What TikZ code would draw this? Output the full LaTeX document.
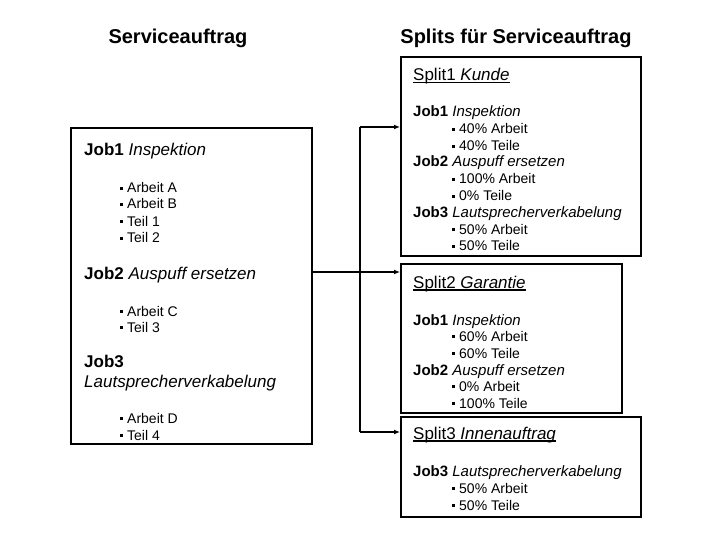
\documentclass[tikz,border=0pt]{standalone}
\usepackage{fontspec}
\setmainfont{Liberation Sans}
\usetikzlibrary{arrows.meta}
\newcommand\sqbul{\rule[3pt]{3pt}{3pt}}
\newcommand\myul[1]{\setbox0\hbox{#1}\rlap{\rule[-2.5pt]{\wd0}{1.2pt}}\box0}
\newcommand\jb[2]{{\bfseries #1} \textit{#2}}
\begin{document}
\begin{tikzpicture}[x=1pt,y=-1pt,
 box/.style={draw, line width=2pt, inner sep=0pt, anchor=north west},
 t/.style={anchor=base west, inner sep=0pt},
 title/.style={anchor=base, inner sep=0pt, font=\fontsize{20}{24}\selectfont\bfseries},
 lhead/.style={t, font=\fontsize{17}{20}\selectfont},
 lbul/.style={t, font=\fontsize{14}{17}\selectfont},
 rsplit/.style={t, font=\fontsize{17}{20}\selectfont},
 rhead/.style={t, font=\fontsize{15}{17}\selectfont},
 rbul/.style={t, font=\fontsize{14}{17}\selectfont},
 conn/.style={line width=1.6pt},
 arr/.style={conn, -{Latex[length=6pt,width=5pt]}}]
\useasboundingbox (0,0) rectangle (720,540);

% titles
\node[title] (t1) at (178,44) {Serviceauftrag};
\node[title] (t2) at (516,44) {Splits für Serviceauftrag};

% boxes
\node[box, minimum width=241pt, minimum height=316pt] (L) at (70,127) {};
\node[box, minimum width=240pt, minimum height=199pt] (S1) at (400,56) {};
\node[box, minimum width=221pt, minimum height=149pt] (S2) at (400,263) {};
\node[box, minimum width=240pt, minimum height=100pt] (S3) at (400,416) {};

% left box text
\node[lhead] (l1) at (84,156) {\jb{Job1}{Inspektion}};
\node[lbul] (l2) at (120,193) {\sqbul\hspace{4pt}Arbeit A};
\node[lbul] (l3) at (120,209) {\sqbul\hspace{4pt}Arbeit B};
\node[lbul] (l4) at (120,226) {\sqbul\hspace{4pt}Teil 1};
\node[lbul] (l5) at (120,243) {\sqbul\hspace{4pt}Teil 2};
\node[lhead] (l6) at (84,279) {\jb{Job2}{Auspuff ersetzen}};
\node[lbul] (l7) at (120,316) {\sqbul\hspace{4pt}Arbeit C};
\node[lbul] (l8) at (120,332) {\sqbul\hspace{4pt}Teil 3};
\node[lhead] (l9) at (84,367) {\bfseries Job3};
\node[lhead] (l10) at (84,387) {\itshape Lautsprecherverkabelung};
\node[lbul] (l11) at (120,423) {\sqbul\hspace{4pt}Arbeit D};
\node[lbul] (l12) at (120,440) {\sqbul\hspace{4pt}Teil 4};

% split 1
\node[rsplit] (a0) at (413,81) {\myul{Split1 \textit{Kunde}}};
\node[rhead] (a1) at (413,117) {\jb{Job1}{Inspektion}};
\node[rbul] (a2) at (452,134) {\sqbul\hspace{4pt}40\% Arbeit};
\node[rbul] (a3) at (452,151) {\sqbul\hspace{4pt}40\% Teile};
\node[rhead] (a4) at (413,167) {\jb{Job2}{Auspuff ersetzen}};
\node[rbul] (a5) at (452,184) {\sqbul\hspace{4pt}100\% Arbeit};
\node[rbul] (a6) at (452,201) {\sqbul\hspace{4pt}0\% Teile};
\node[rhead] (a7) at (413,218) {\jb{Job3}{Lautsprecherverkabelung}};
\node[rbul] (a8) at (452,234) {\sqbul\hspace{4pt}50\% Arbeit};
\node[rbul] (a9) at (452,251) {\sqbul\hspace{4pt}50\% Teile};

% split 2
\node[rsplit] (b0) at (413,288) {\myul{Split2 \textit{Garantie}}};
\node[rhead] (b1) at (413,325) {\jb{Job1}{Inspektion}};
\node[rbul] (b2) at (452,341) {\sqbul\hspace{4pt}60\% Arbeit};
\node[rbul] (b3) at (452,358) {\sqbul\hspace{4pt}60\% Teile};
\node[rhead] (b4) at (413,375) {\jb{Job2}{Auspuff ersetzen}};
\node[rbul] (b5) at (452,391) {\sqbul\hspace{4pt}0\% Arbeit};
\node[rbul] (b6) at (452,408) {\sqbul\hspace{4pt}100\% Teile};

% split 3
\node[rsplit] (c0) at (413,439) {\myul{Split3 \textit{Innenauftrag}}};
\node[rhead] (c1) at (413,476) {\jb{Job3}{Lautsprecherverkabelung}};
\node[rbul] (c2) at (452,493) {\sqbul\hspace{4pt}50\% Arbeit};
\node[rbul] (c3) at (452,510) {\sqbul\hspace{4pt}50\% Teile};

% connectors
\coordinate (T) at (360,127);
\coordinate (J) at (360,272);
\coordinate (B) at (360,432);
\draw[conn] (L.east |- J) -- (J);
\draw[conn] (T) -- (B);
\draw[arr] (T) -- (S1.west |- T);
\draw[arr] (J) -- (S2.west |- J);
\draw[arr] (B) -- (S3.west |- B);
\end{tikzpicture}
\end{document}
